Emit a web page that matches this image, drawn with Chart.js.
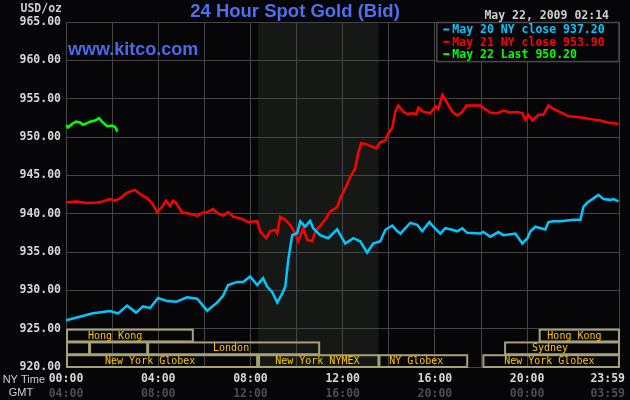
<!DOCTYPE html>
<html>
<head>
<meta charset="utf-8">
<script src="https://cdn.jsdelivr.net/npm/chart.js@4.4.1/dist/chart.umd.min.js"></script>
<style>
body { margin: 0; background: #060609; }
#wrap { width: 630px; height: 400px; }
</style>
</head>
<body>
<div id="wrap"><canvas id="gold_chart" width="630" height="400"></canvas></div>
<script>
// Prices, hour of the NY day -> USD/oz
const may20Hours = [0, 1.17, 1.91, 2.26, 2.65, 3.04, 3.34, 3.65, 3.99, 4.38, 4.77, 5.25, 5.69, 6.12, 6.55, 6.81, 7.03, 7.42, 7.68, 7.99,
    8.29, 8.55, 8.72, 8.94, 9.16, 9.38, 9.51, 9.64, 9.81, 10.03, 10.16, 10.37, 10.59, 10.72, 11.02, 11.37, 11.76, 12.11, 12.46, 12.76,
    13.06, 13.32, 13.63, 13.85, 14.15, 14.37, 14.5, 14.93, 15.23, 15.45, 15.76, 15.93, 16.23, 16.45, 16.75, 16.97, 17.19, 17.4, 17.97, 18.1,
    18.4, 18.75, 18.97, 19.49, 19.79, 20.01, 20.14, 20.36, 20.79, 20.92, 21.14, 21.44, 21.74, 22.01, 22.31, 22.44, 22.61, 22.83, 23.09, 23.31,
    23.61, 23.74, 23.96]
const may20Prices = [926.1, 927.0, 927.3, 927.0, 928.0, 927.1, 927.9, 927.7, 929.0, 928.6, 928.5, 929.1, 928.9, 927.35, 928.4, 929.3, 930.7, 931.1, 931.1, 931.8,
    930.7, 931.6, 930.5, 929.8, 928.4, 929.6, 930.5, 934.0, 937.2, 937.45, 939.0, 938.3, 939.05, 938.1, 937.2, 936.8, 937.95, 936.1, 936.8, 936.4,
    934.9, 936.1, 936.4, 937.9, 938.45, 937.7, 937.4, 938.8, 938.55, 937.7, 938.9, 938.3, 937.4, 938.1, 937.9, 937.7, 938.1, 937.5, 937.4, 937.6,
    937.0, 937.6, 937.2, 937.4, 936.1, 936.8, 937.7, 938.3, 937.95, 938.9, 939.0, 939.0, 939.1, 939.2, 939.2, 940.9, 941.45, 941.9, 942.45, 941.9,
    941.8, 941.9, 941.6]

const may21Hours = [0, 0.48, 0.91, 1.35, 1.61, 1.91, 2.13, 2.34, 2.65, 2.99, 3.21, 3.52, 3.73, 3.95, 4.17, 4.34, 4.51, 4.64, 4.77, 5.03,
    5.38, 5.69, 5.95, 6.12, 6.38, 6.6, 6.81, 7.03, 7.25, 7.64, 7.9, 8.2, 8.29, 8.42, 8.68, 8.85, 9.07, 9.16, 9.29, 9.51,
    9.72, 9.94, 10.07, 10.29, 10.46, 10.68, 10.81, 11.02, 11.24, 11.46, 11.76, 11.89, 12.11, 12.33, 12.54, 12.67, 12.8, 12.98, 13.19, 13.45,
    13.63, 13.85, 13.98, 14.15, 14.28, 14.41, 14.63, 14.8, 15.02, 15.19, 15.28, 15.49, 15.8, 16.02, 16.15, 16.32, 16.54, 16.75, 16.97, 17.19,
    17.36, 17.97, 18.1, 18.4, 18.71, 18.97, 19.27, 19.57, 19.79, 19.92, 20.05, 20.23, 20.49, 20.7, 20.92, 21.22, 21.53, 21.79, 22.18, 22.44,
    22.83, 23.18, 23.48, 23.74, 23.96]
const may21Prices = [941.5, 941.6, 941.4, 941.45, 941.6, 941.9, 941.7, 942.0, 942.75, 943.1, 942.6, 942.0, 941.4, 940.2, 940.9, 941.7, 941.0, 941.7, 941.45, 940.15,
    940.0, 939.7, 940.15, 940.2, 940.6, 940.0, 939.75, 940.2, 939.6, 939.3, 938.9, 939.0, 939.0, 937.7, 936.8, 937.7, 937.9, 937.45, 939.6, 939.2,
    938.55, 937.45, 936.4, 938.1, 936.6, 936.4, 937.7, 938.4, 939.2, 940.3, 940.85, 942.0, 943.3, 944.8, 945.9, 947.9, 949.2, 949.1, 948.85, 948.55,
    949.3, 949.55, 950.5, 951.2, 953.3, 954.1, 953.3, 953.0, 953.1, 953.0, 953.8, 953.3, 953.1, 954.0, 953.65, 955.5, 954.4, 953.3, 952.8, 953.3,
    954.1, 954.1, 953.8, 953.2, 953.1, 953.45, 953.2, 953.25, 953.1, 952.25, 952.9, 952.15, 952.9, 952.9, 954.1, 953.55, 953.1, 952.7, 952.6, 952.5,
    952.3, 952.15, 951.9, 951.8, 951.7]

const may22Hours = [0, 0.09, 0.26, 0.43, 0.61, 0.74, 0.91, 1.04, 1.26, 1.43, 1.56, 1.78, 2.0, 2.13, 2.23]
const may22Prices = [951.6, 951.25, 951.7, 952.0, 951.9, 951.6, 951.8, 952.0, 952.15, 952.45, 952.0, 951.4, 951.5, 951.3, 950.7]

const seriesNames = ['May 20 NY close 937.20', 'May 21 NY close 953.90', 'May 22 Last 950.20']
const seriesColors = ['#00c8ff', '#ff0000', '#00ff00']

const nyTickLabels = ['00:00', '04:00', '08:00', '12:00', '16:00', '20:00', '23:59']
const gmtTickLabels = ['04:00', '08:00', '12:00', '16:00', '20:00', '00:00', '03:59']
const tickHours = [0, 4, 8, 12, 16, 20, 23.983]

// Trading sessions (row 0 = top), start/end in NY hours, label anchor hour
const sessionNames = ['Hong Kong', 'Hong Kong', '', '', 'London', 'Sydney', 'New York Globex', 'New York NYMEX', 'NY Globex', 'New York Globex']
const sessionRows = [0, 0, 1, 1, 1, 1, 2, 2, 2, 2]
const sessionStart = [0, 20.5, 0, 1.0, 3.52, 19.0, 0, 8.33, 13.55, 18.06]
const sessionEnd = [5.5, 23.983, 1.0, 3.52, 10.98, 23.983, 8.29, 13.55, 17.4, 23.983]
const sessionLabelAt = [2.13, 22.05, 0, 0, 7.16, 20.99, 3.65, 10.9, 15.19, 20.96]

const nymexStart = 8.33
const nymexEnd = 13.55

const MONO = '"DejaVu Sans Mono", monospace'
const SANS = '"Liberation Sans", Arial, sans-serif'

function toPoints(hours, prices) {
    return hours.map((h, i) => ({ x: h, y: prices[i] }))
}

const kitcoDecor = {
    id: 'kitcoDecor',
    beforeDraw(chart) {
        const { ctx, chartArea: a, scales: { x } } = chart
        ctx.save()
        ctx.fillStyle = '#060609'
        ctx.fillRect(0, 0, chart.width, chart.height)
        // NYMEX hours shading
        const sx = x.getPixelForValue(nymexStart)
        const ex = x.getPixelForValue(nymexEnd)
        ctx.fillStyle = '#151815'
        ctx.fillRect(sx, a.top, ex - sx, a.bottom - a.top)
        ctx.restore()
    },
    afterDatasetsDraw(chart) {
        const { ctx, chartArea: a, scales: { x, y } } = chart
        ctx.save()

        // session boxes
        const rowH = (y.getPixelForValue(920) - y.getPixelForValue(925)) / 3
        const rowTop = y.getPixelForValue(925)
        ctx.strokeStyle = '#a6a276'
        ctx.lineWidth = 2
        ctx.font = '10px ' + MONO
        ctx.textAlign = 'center'
        ctx.textBaseline = 'middle'
        sessionNames.forEach((name, i) => {
            const x0 = x.getPixelForValue(sessionStart[i])
            const x1 = x.getPixelForValue(sessionEnd[i])
            const y0 = rowTop + sessionRows[i] * rowH
            ctx.strokeRect(x0 + 1, y0 + 1, x1 - x0 - 1, rowH - 1)
            if (name) {
                ctx.fillStyle = '#ffc800'
                ctx.fillText(name, x.getPixelForValue(sessionLabelAt[i]), y0 + rowH / 2 + 1)
            }
        })

        // legend box
        const lx = x.getPixelForValue(16.06)
        const lb = y.getPixelForValue(959.9)
        ctx.fillStyle = '#060609'
        ctx.fillRect(lx, a.top, a.right - lx, lb - a.top)
        ctx.strokeStyle = '#4a4a4a'
        ctx.lineWidth = 1.5
        ctx.strokeRect(lx + 0.5, a.top + 0.5, a.right - lx - 0.5, lb - a.top)
        ctx.font = 'bold 11.5px ' + MONO
        ctx.textAlign = 'left'
        seriesNames.forEach((name, i) => {
            const ty = a.top + 7.5 + i * 12.3
            ctx.fillStyle = seriesColors[i]
            ctx.fillRect(lx + 7, ty - 1, 6, 2)
            ctx.fillText(name, lx + 16, ty + 1)
        })

        // x tick labels, NY time and GMT
        ctx.font = 'bold 11.5px ' + MONO
        tickHours.forEach((h, i) => {
            let px = x.getPixelForValue(h)
            const w = ctx.measureText(nyTickLabels[i]).width
            px = Math.min(px, 625 - w / 2)
            ctx.textAlign = 'center'
            ctx.fillStyle = '#d8d8d8'
            ctx.fillText(nyTickLabels[i], px, 379)
            ctx.fillStyle = '#4e4e4e'
            ctx.fillText(gmtTickLabels[i], px, 394)
        })
        ctx.font = '11px ' + SANS
        ctx.fillStyle = '#cfcfcf'
        ctx.textAlign = 'right'
        ctx.fillText('NY Time', 45, 380)
        ctx.textAlign = 'center'
        ctx.fillText('GMT', 21, 393)

        // titles
        ctx.textBaseline = 'alphabetic'
        ctx.font = 'bold 18.5px ' + SANS
        ctx.fillStyle = '#4f6ff0'
        ctx.fillText('24 Hour Spot Gold (Bid)', 295, 17)
        ctx.textAlign = 'left'
        ctx.font = 'bold 18px ' + SANS
        ctx.fillStyle = '#4a6ae8'
        ctx.fillText('www.kitco.com', 68, 55)
        ctx.font = 'bold 11.5px ' + MONO
        ctx.fillStyle = '#cfcfcf'
        ctx.textAlign = 'right'
        ctx.fillText('USD/oz', 62, 12)
        ctx.fillText('May 22, 2009 02:14', 609, 19)
        ctx.restore()
    }
}

const hourSeries = [toPoints(may20Hours, may20Prices), toPoints(may21Hours, may21Prices), toPoints(may22Hours, may22Prices)]

new Chart(document.getElementById('gold_chart'), {
    type: 'line',
    data: {
        datasets: hourSeries.map((pts, i) => ({
            label: seriesNames[i],
            data: pts,
            borderColor: seriesColors[i],
            borderWidth: 2.5,
            pointRadius: 0,
            tension: 0,
            fill: false
        }))
    },
    options: {
        responsive: false,
        animation: false,
        layout: { padding: { top: 22, right: 11, left: 0, bottom: 0 } },
        plugins: {
            legend: { display: false },
            tooltip: { enabled: false }
        },
        scales: {
            x: {
                type: 'linear',
                min: 0,
                max: 23.983,
                afterFit(scale) { scale.height = 33 },
                ticks: { display: false, stepSize: 2 },
                grid: { color: '#454545', lineWidth: 1, drawTicks: false },
                border: { display: false }
            },
            y: {
                min: 920,
                max: 965,
                afterFit(scale) { scale.width = 66 },
                ticks: {
                    stepSize: 5,
                    padding: 5,
                    color: '#d8d8d8',
                    font: { family: MONO, size: 11.5, weight: 'bold' },
                    callback: v => v.toFixed(2)
                },
                grid: { color: '#454545', lineWidth: 1, drawTicks: false },
                border: { display: false }
            }
        }
    },
    plugins: [kitcoDecor]
})
</script>
</body>
</html>
